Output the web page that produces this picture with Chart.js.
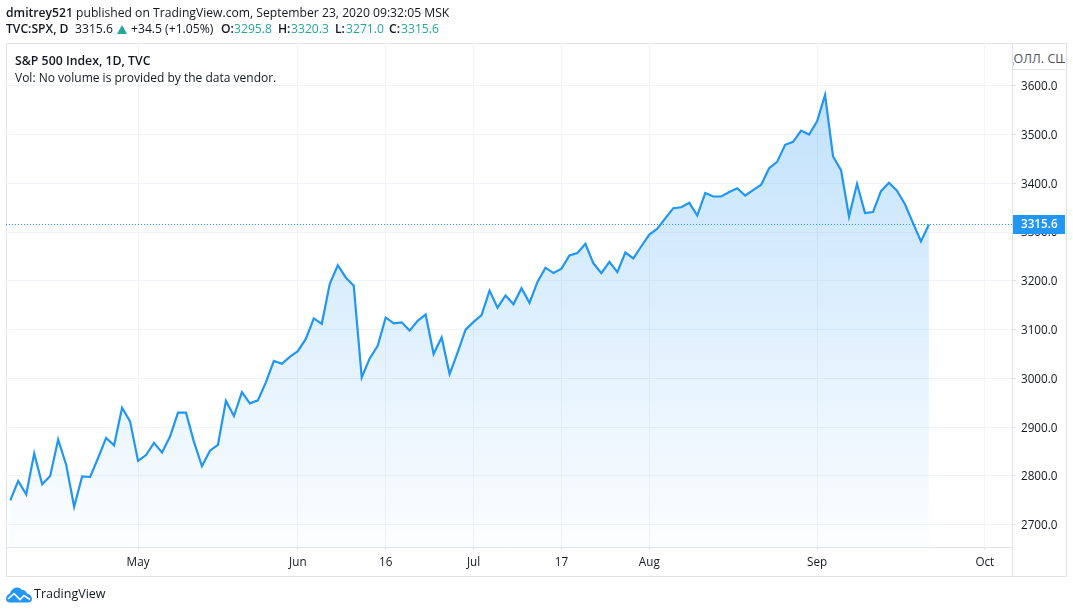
<!DOCTYPE html>
<html>
<head>
<meta charset="utf-8">
<title>S&amp;P 500 Index, 1D, TVC</title>
<script src="https://cdn.jsdelivr.net/npm/chart.js@4"></script>
<style>
  html, body { margin: 0; padding: 0; background: #fff; }
  body { width: 1073px; height: 613px; position: relative; overflow: hidden; font-family: "Open Sans", sans-serif; color: #131722; }
  canvas { position: absolute; left: 0; top: 0; }
  .txt { position: absolute; white-space: nowrap; font-size: 12.15px; line-height: 16px; }
  .b { font-weight: 600; }
  .teal { color: #26a69a; }
  .frame { position: absolute; left: 6px; top: 43px; width: 1059px; height: 532px; border: 1px solid #e0e3eb; }
  .vline { position: absolute; left: 1012px; top: 43px; width: 1px; height: 533px; background: #e0e3eb; }
  .unit { position: absolute; left: 1013px; top: 50px; width: 52px; height: 19px; background: #fff; border-bottom: 1px solid #e0e3eb; overflow: hidden; }
  .unit span { position: absolute; left: -8px; top: 1px; font-size: 12.5px; line-height: 16px; white-space: nowrap; color: #50535e; }
  .tri { position: absolute; left: 117px; top: 25px; width: 0; height: 0; border-left: 5px solid transparent; border-right: 5px solid transparent; border-bottom: 9px solid #26a69a; }
</style>
</head>
<body>
<div class="frame"></div>
<canvas id="spxChart" width="1073" height="613"></canvas>
<div class="vline"></div>
<div class="unit"><span>ДОЛЛ. США</span></div>

<div class="txt" style="left:6px;top:5px"><span class="b">dmitrey521</span> published on TradingView.com, September 23, 2020 09:32:05 MSK</div>
<div class="txt b" style="left:6px;top:21px">TVC:SPX, D</div>
<div class="txt" style="left:75px;top:21px">3315.6</div>
<div class="tri"></div>
<div class="txt" style="left:131px;top:21px">+34.5 (+1.05%)</div>
<div class="txt b" style="left:221px;top:21px">O:</div>
<div class="txt teal" style="left:234px;top:21px">3295.8</div>
<div class="txt b" style="left:278px;top:21px">H:</div>
<div class="txt teal" style="left:291px;top:21px">3320.3</div>
<div class="txt b" style="left:335px;top:21px">L:</div>
<div class="txt teal" style="left:346px;top:21px">3271.0</div>
<div class="txt b" style="left:389px;top:21px">C:</div>
<div class="txt teal" style="left:401px;top:21px">3315.6</div>

<div class="txt b" style="left:15px;top:53px;font-size:12.3px">S&amp;P 500 Index, 1D, TVC</div>
<div class="txt" style="left:15px;top:70px;font-size:12px">Vol: No volume is provided by the data vendor.</div>

<svg style="position:absolute;left:6px;top:587px" width="26" height="16" viewBox="0 0 26 16">
  <path fill="#2196f3" d="M0 12 C0 9 2 7 4 6.500 C5 3 8 0.500 11 0.500 C13.500 0.500 15 1.500 16 3 C18 2.500 20 4 21 6.500 C24 7 26 9.500 26 12 C26 14.500 24 15.500 22 15.500 L4 15.500 C2 15.500 0 14.500 0 12 Z"/>
  <path fill="none" stroke="#fff" stroke-width="1.6" d="M2 12 L8 6.500 L14 12.500 L18 8.500 L24 12.500"/>
</svg>
<div class="txt" style="left:34px;top:586px;font-size:12.5px">TradingView</div>

<script>
// daily closes, Apr 8 to Sep 22 2020
const closes = [
  2750, 2790, 2762, 2846, 2783, 2800, 2875, 2823, 2737, 2799, 2798, 2837, 2878, 2863, 2940, 2912,
  2831, 2843, 2868, 2848, 2881, 2930, 2930, 2870, 2820, 2852, 2864, 2954, 2923, 2972, 2949, 2955, 2992, 3036, 3030, 3044,
  3056, 3081, 3123, 3112, 3194, 3232, 3207, 3190, 3002, 3041, 3067, 3125, 3113, 3115, 3098, 3118, 3131, 3050, 3084, 3009, 3053, 3100,
  3116, 3130, 3180, 3145, 3170, 3152, 3185, 3155, 3198, 3227, 3216, 3225, 3252, 3257, 3276, 3236, 3216, 3239, 3218, 3258, 3246, 3271,
  3295, 3307, 3328, 3349, 3351, 3360, 3334, 3380, 3373, 3373, 3382, 3390, 3375, 3386, 3397, 3431, 3444, 3479, 3485, 3508, 3500,
  3527, 3581, 3455, 3427, 3332, 3399, 3339, 3341, 3384, 3401, 3385, 3357, 3319, 3281, 3315.6
];

// x axis works in trading day numbers, 0 = first bar
const xTickDays = [16, 36, 47, 58, 69, 80, 101, 122];
const xTickLabels = ['May', 'Jun', '16', 'Jul', '17', 'Aug', 'Sep', 'Oct'];
const yTickValues = [2700, 2800, 2900, 3000, 3100, 3200, 3300, 3400, 3500, 3600];
const lastPrice = 3315.6;

const xMin = -0.53, xMax = 125.4;
const yMin = 2654.45, yMax = 3687.65;

// blue tag with the last price, on the price axis
const priceTag = {
  id: 'priceTag',
  afterDraw(chart) {
    const c = chart.ctx;
    const y = Math.round(chart.scales.y.getPixelForValue(lastPrice));
    c.save();
    c.fillStyle = '#2196f3';
    c.fillRect(1012, y - 9, 53, 19);
    c.fillStyle = '#fff';
    c.font = '600 11.7px "Open Sans"';
    c.textBaseline = 'middle';
    c.fillText(lastPrice.toFixed(1), 1021, y + 1);
    c.restore();
  }
};

const ctx = document.getElementById('spxChart').getContext('2d');
new Chart(ctx, {
  type: 'line',
  data: {
    datasets: [{
      data: closes.map((v, i) => ({ x: i, y: v })),
      borderColor: '#2196f3',
      borderWidth: 2.2,
      pointRadius: 0,
      tension: 0,
      fill: 'start',
      backgroundColor: (context) => {
        const area = context.chart.chartArea;
        if (!area) return 'rgba(33,150,243,0.28)';
        const g = context.chart.ctx.createLinearGradient(0, 93, 0, area.bottom);
        g.addColorStop(0, 'rgba(33,150,243,0.28)');
        g.addColorStop(1, 'rgba(33,150,243,0.01)');
        return g;
      }
    }, {
      // dotted last price line
      data: [{ x: xMin, y: lastPrice }, { x: xMax, y: lastPrice }],
      borderColor: '#2196f3',
      borderWidth: 1,
      borderDash: [1, 2],
      pointRadius: 0,
      fill: false
    }]
  },
  options: {
    responsive: false,
    animation: false,
    layout: { padding: { left: 6, top: 43, right: 7, bottom: 37 } },
    plugins: { legend: { display: false }, tooltip: { enabled: false } },
    scales: {
      x: {
        type: 'linear',
        min: xMin,
        max: xMax,
        afterBuildTicks: (scale) => { scale.ticks = xTickDays.map(v => ({ value: v })); },
        afterFit: (scale) => { scale.height = 29; },
        grid: { color: '#f0f3fa', tickColor: '#e0e3eb', tickLength: 3 },
        border: { color: '#e0e3eb' },
        ticks: {
          autoSkip: false,
          maxRotation: 0,
          padding: 6,
          color: '#131722',
          font: { family: '"Open Sans"', size: 11.7 },
          callback: (v) => xTickLabels[xTickDays.indexOf(v)]
        }
      },
      y: {
        position: 'right',
        min: yMin,
        max: yMax,
        afterBuildTicks: (scale) => { scale.ticks = yTickValues.map(v => ({ value: v })); },
        afterFit: (scale) => { scale.width = 54; },
        grid: { color: '#f0f3fa', tickColor: '#e0e3eb', tickLength: 4 },
        border: { color: '#e0e3eb' },
        ticks: {
          padding: 5,
          labelOffset: 1,
          color: '#131722',
          font: { family: '"Open Sans"', size: 11.7 },
          callback: (v) => v.toFixed(1)
        }
      }
    }
  },
  plugins: [priceTag]
});
</script>
</body>
</html>
